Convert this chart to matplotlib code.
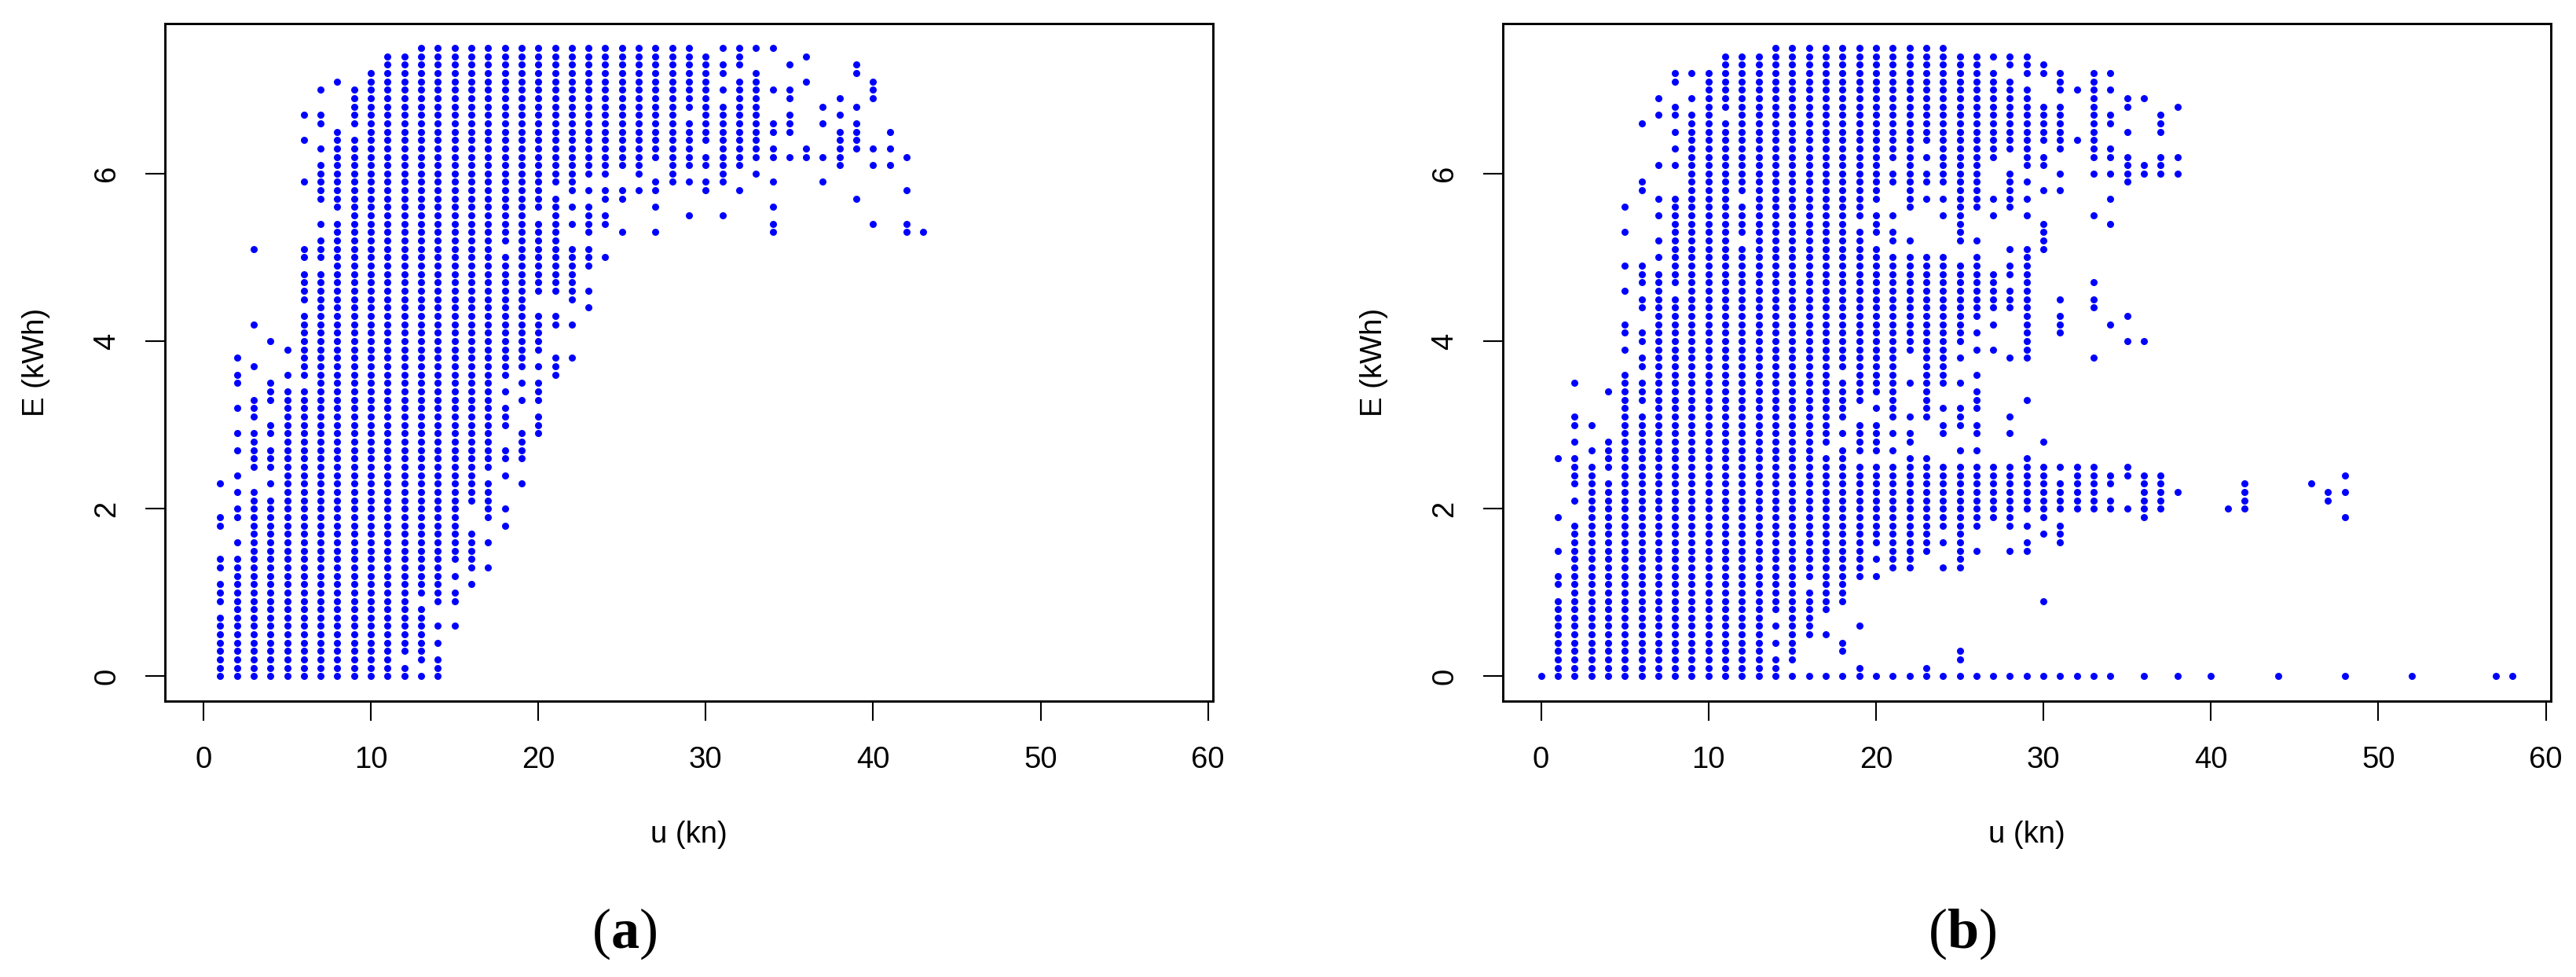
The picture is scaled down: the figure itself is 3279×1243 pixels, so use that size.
import matplotlib
matplotlib.use("Agg")
import matplotlib.pyplot as plt

plt.rcParams['font.family'] = ['Liberation Sans', 'DejaVu Sans']

# filas: E (kWh) -> valores de u (kn) com ponto nessa fila
rows_a = {
    7.5: "13-29 31-34", 7.4: "11-30 32 36", 7.3: "11-32 35 39", 7.2: "10-31 33 39",
    7.1: "8 10-30 32 33 36 40", 7.0: "7 9-35 40", 6.9: "9-30 32 33 35 38 40",
    6.8: "9-33 37 39", 6.7: "6 7 9-28 30-33 35 38", 6.6: "7 9-35 37 39",
    6.5: "8 10-35 38 39 41", 6.4: "6 8-33 38 39", 6.3: "7-29 31-34 36 38-41",
    6.2: "8-38 42", 6.1: "7-26 28-32 38 40 41", 6.0: "7-24 26 28 31 33",
    5.9: "6-22 27-31 34 37", 5.8: "7-20 22-27 30 32 42", 5.7: "7-21 24 25 39",
    5.6: "8-23 27 34", 5.5: "9-19 21 23 24 29 31", 5.4: "7-24 34 40 42",
    5.3: "8-21 23 25 27 34 42 43", 5.2: "7-21", 5.1: "3 6-17 19-23", 5.0: "6-24",
    4.9: "8-23", 4.8: "6-22", 4.7: "6-22", 4.6: "6-23", 4.5: "6-19 22",
    4.4: "7-19 23", 4.3: "6-21", 4.2: "3 6-22", 4.1: "6-20", 4.0: "4 6-20",
    3.9: "5-20", 3.8: "2 6-19 21 22", 3.7: "3 6-21", 3.6: "2 5-18 21",
    3.5: "2 4 7-17 19 20", 3.4: "4-18 20", 3.3: "3-17 19 20", 3.2: "2 3 5-18",
    3.1: "3 5-18 20", 3.0: "4-18 20", 2.9: "2-17 19 20", 2.8: "3 5-17 19",
    2.7: "2-19", 2.6: "3-19", 2.5: "3-17", 2.4: "2 5-16 18", 2.3: "1 4-17 19",
    2.2: "2 3 5-17", 2.1: "3-17", 2.0: "2-15 17 18", 1.9: "1-15 17",
    1.8: "1 3-15 18", 1.7: "3-16", 1.6: "2-17", 1.5: "3-16", 1.4: "1-16",
    1.3: "1-14 16 17", 1.2: "2-15", 1.1: "1-14 16", 1.0: "1-15", 0.9: "1-12 14 15",
    0.8: "2-13", 0.7: "1-13", 0.6: "1-15", 0.5: "1-13", 0.4: "1-14", 0.3: "1-13",
    0.2: "1-11 13 14", 0.1: "1-12 14", 0.0: "1-14",
}

rows_b = {
    7.5: "14-24", 7.4: "11-29", 7.3: "11-26 28-30", 7.2: "8-27 29-31 33 34",
    7.1: "8 10-28 31 33", 7.0: "10-29 31-34", 6.9: "7 9-29 33 35 36",
    6.8: "8 10-31 33 35 38", 6.7: "7-10 12-31 33 34 37", 6.6: "6 9-31 33 34 37",
    6.5: "8-31 33 35 37", 6.4: "9-33", 6.3: "8-22 24-29 31 33 34",
    6.2: "9-27 29 30 33-35 37 38", 6.1: "7-20 22 24-26 29 30 35-37",
    6.0: "9-26 28 31 33-38", 5.9: "6 9-26 28 29 35", 5.8: "6 9-20 22 25 26 28 30 31",
    5.7: "7-11 13-20 22-29 34", 5.6: "5 8-19 22 25 26 28", 5.5: "7-21 24 25 27 29 33",
    5.4: "8-18 20 25 30 34", 5.3: "5 8-21 25 30", 5.2: "7-11 13-19 21 22 25 26 30",
    5.1: "8-20 28-30", 5.0: "7-24 26 29", 4.9: "5 6 8-26 28 29", 4.8: "6-29",
    4.7: "6-27 29 33", 4.6: "5 7 9-29", 4.5: "6-29 31 33", 4.4: "6-29 33",
    4.3: "7-26 29 31 35", 4.2: "5 7-25 27 29 31 34", 4.1: "5-26 29 31",
    4.0: "6-25 29 35 36", 3.9: "5 7-24 26 27 29", 3.8: "6-21 23-25 28 29 33",
    3.7: "6-21 23 24", 3.6: "5 7-17 19-21 23 24 26", 3.5: "2 5-25", 3.4: "4-21 23 26",
    3.3: "5-19 21 23 26 29", 3.2: "5 7-18 20 21 23-26", 3.1: "2 5-18 21-23 25 28",
    3.0: "2 3 5-17 19 20 24-26", 2.9: "5-22 24 26 28", 2.8: "2 4-17 19 20 22 30",
    2.7: "3-16 18-21 25 26", 2.6: "1 2 4-18 22 23 29", 2.5: "2-33 35",
    2.4: "2 3 5-30 32-37 48", 2.3: "2-34 36 37 42 46", 2.2: "3-33 36-38 42 47 48",
    2.1: "2-34 36 37 42 47", 2.0: "3-37 41 42", 1.9: "1 3-28 30 36 48",
    1.8: "2-26 28 29 31", 1.7: "2-23 25 30 31", 1.6: "2-25 29 31",
    1.5: "1-19 21-23 25 26 28 29", 1.4: "2-22 25", 1.3: "2-19 21 22 24 25",
    1.2: "1-20", 1.1: "1-15 17 18", 1.0: "2-18", 0.9: "1-18 30", 0.8: "1-17",
    0.7: "1-13 15 16", 0.6: "1-16 19", 0.5: "1-13 15-17", 0.4: "1-15 18",
    0.3: "1-13 15 18 25", 0.2: "1-15 25", 0.1: "1-14 19 23",
    0.0: "0-34 36 38 40 44 48 52 57 58",
}

x_ticks = [0, 10, 20, 30, 40, 50, 60]
y_ticks = [0, 2, 4, 6]
x_label = "u (kn)"
y_label = "E (kWh)"

W, H = 3280, 1243


def ler_pontos(rows):
    us, es = [], []
    for e, texto in rows.items():
        for parte in texto.split():
            if "-" in parte:
                ini, fim = parte.split("-")
                vals = range(int(ini), int(fim) + 1)
            else:
                vals = [int(parte)]
            for u in vals:
                us.append(u)
                es.append(e)
    return us, es


def painel(fig, rows, left, right, xlim, tag, tag_x):
    top, bottom = 30, 892
    ax = fig.add_axes([left / W, 1 - bottom / H, (right - left) / W, (bottom - top) / H])
    us, es = ler_pontos(rows)
    ax.scatter(us, es, s=42, c="#0000ff", linewidths=0, zorder=3)
    ax.set_xlim(*xlim)
    ax.set_ylim(-0.296, 7.79)
    ax.set_xticks(x_ticks)
    ax.set_yticks(y_ticks)
    ax.tick_params(axis="x", length=18, width=1.5, pad=23, labelsize=27.5)
    ax.tick_params(axis="y", length=18, width=1.5, pad=22, labelsize=27.5)
    for t in ax.get_yticklabels():
        t.set_rotation(90)
        t.set_va("center")
    for s in ax.spines.values():
        s.set_linewidth(2.1)
    cx = (left + right) / 2 / W
    fig.text(cx, 1 - 1062 / H, x_label, ha="center", va="center", fontsize=27.5)
    fig.text((left - 164) / W, 1 - 461 / H, y_label, rotation=90, ha="center", va="center", fontsize=27.5)
    fig.text(tag_x / W, 1 - 1188 / H, r"$(\mathbf{%s})$" % tag, ha="center", va="center", fontsize=52)


plt.rcParams['mathtext.fontset'] = 'custom'
plt.rcParams['mathtext.rm'] = 'Liberation Serif'
plt.rcParams['mathtext.bf'] = 'Liberation Serif:bold'

fig = plt.figure(figsize=(W / 100, H / 100), dpi=100, facecolor="white")
painel(fig, rows_a, 210, 1544, (-2.3, 60.3), "a", 795)
painel(fig, rows_b, 1913, 3247, (-2.28, 60.3), "b", 2498)
fig.savefig("out.png", dpi=100)
